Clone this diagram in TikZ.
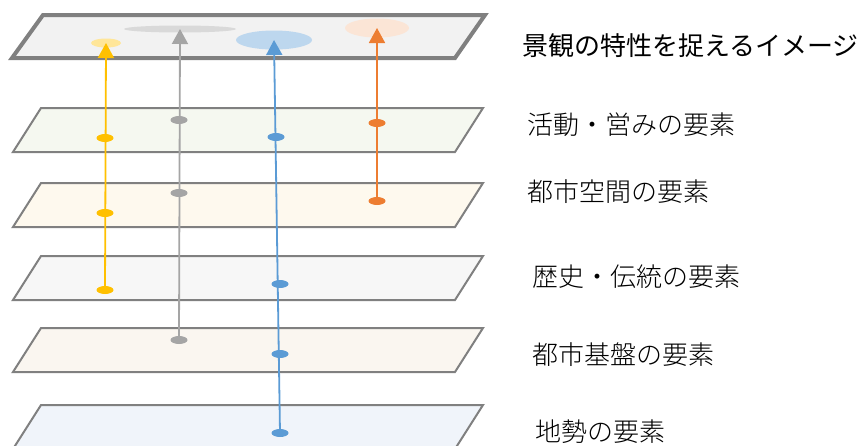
\documentclass[tikz,border=0pt]{standalone}
\usepackage{fontspec}
\usepackage{tikz}
\usetikzlibrary{arrows.meta}
\usetikzlibrary{shapes.geometric}
\newfontfamily\jptitle{Noto Sans CJK JP}
\newfontfamily\jplabel{Noto Sans CJK JP Light}
\definecolor{frame}{RGB}{128,128,128}
\definecolor{ygold}{RGB}{255,192,0}
\definecolor{ggray}{RGB}{165,165,165}
\definecolor{bblue}{RGB}{91,155,213}
\definecolor{oorange}{RGB}{237,125,49}
\definecolor{ylight}{RGB}{255,230,153}
\definecolor{glight}{RGB}{217,217,217}
\definecolor{blight}{RGB}{189,215,238}
\definecolor{olight}{RGB}{251,229,214}
\definecolor{topfill}{RGB}{242,242,242}
\definecolor{actfill}{RGB}{245,248,240}
\definecolor{spcfill}{RGB}{254,249,238}
\definecolor{hisfill}{RGB}{247,247,247}
\definecolor{basfill}{RGB}{250,246,240}
\definecolor{terfill}{RGB}{240,244,250}

\begin{document}
\begin{tikzpicture}[x=1pt,y=-1pt,
    layer/.style={draw=frame,line width=2pt},
    dot/.style={ellipse,inner sep=0pt,minimum width=17pt,minimum height=8pt,fill=#1},
    blob/.style={ellipse,inner sep=0pt,fill=#1},
    link/.style={draw=#1,line width=1.8pt,-{Triangle[length=15pt,width=16pt]}},
    tag/.style={anchor=west,inner sep=0pt,font=\jplabel\fontsize{26}{26}\selectfont}]
  \useasboundingbox (0,0) rectangle (866,445);
  \clip (0,0) rectangle (866,445);
  % layers
  \filldraw[draw=frame,line width=4pt,fill=topfill]
    (43,15) -- (485,15) -- (455,58) -- (12,58) -- cycle;
  \foreach \ly/\col in {108/actfill,183/spcfill,256/hisfill,328/basfill,405/terfill}
    \filldraw[layer,fill=\col] (41,\ly) -- (483,\ly) -- (455,\ly+44) -- (13,\ly+44) -- cycle;
  % image of the landscape
  \node[blob=ylight,minimum width=30pt,minimum height=9pt] (yimg) at (106,43) {};
  \node[blob=glight,minimum width=112pt,minimum height=7pt] (gimg) at (180,29) {};
  \node[blob=blight,minimum width=76pt,minimum height=19pt] (bimg) at (274,40) {};
  \node[blob=olight,minimum width=64pt,minimum height=19pt] (oimg) at (377,28) {};
  % elements
  \node[dot=ygold] (y1) at (105,138) {};
  \node[dot=ygold] (y2) at (105,213) {};
  \node[dot=ygold] (y3) at (105,290) {};
  \node[dot=ggray] (g1) at (179,120) {};
  \node[dot=ggray] (g2) at (179,193) {};
  \node[dot=ggray] (g3) at (179,340) {};
  \node[dot=bblue] (b1) at (276,137) {};
  \node[dot=bblue] (b2) at (280,284) {};
  \node[dot=bblue] (b3) at (280,354) {};
  \node[dot=bblue] (b4) at (280,433) {};
  \node[dot=oorange] (o1) at (377,123) {};
  \node[dot=oorange] (o2) at (377,201) {};
  \draw[link=ygold] (y3.center) -- (yimg.center);
  \draw[link=ggray] (g3.center) -- (gimg.center);
  \draw[link=bblue] (b4.center) -- (bimg.center);
  \draw[link=oorange] (o2.center) -- (oimg.center);
  % labels
  \node[anchor=west,inner sep=0pt,font=\jptitle\fontsize{26}{26}\selectfont] (title) at (522,46) {景観の特性を捉えるイメージ};
  \node[tag] (act) at (527,125) {活動・営みの要素};
  \node[tag] (spc) at (527,192) {都市空間の要素};
  \node[tag] (his) at (532,277) {歴史・伝統の要素};
  \node[tag] (bas) at (532,355) {都市基盤の要素};
  \node[tag] (ter) at (535,432) {地勢の要素};
\end{tikzpicture}
\end{document}
